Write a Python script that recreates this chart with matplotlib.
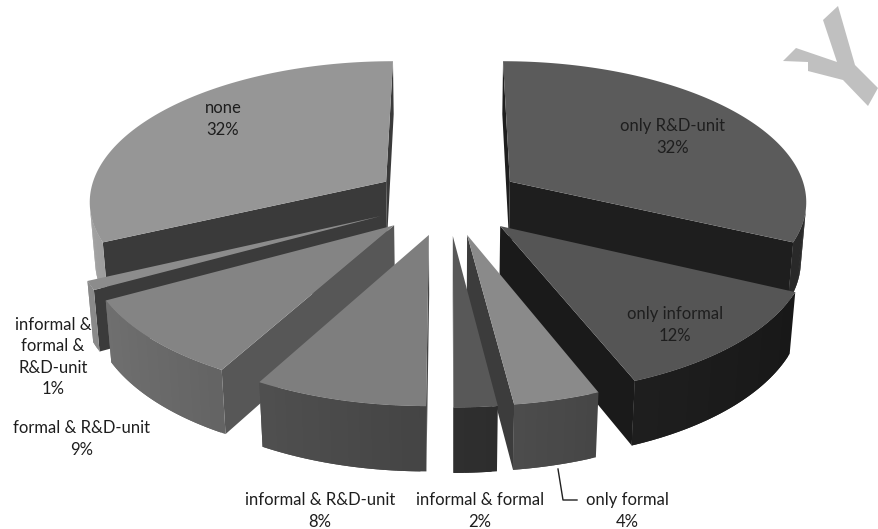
import numpy as np
import matplotlib
matplotlib.use('Agg')
from matplotlib import pyplot as plt
from matplotlib.patches import Polygon

# survey shares, clockwise from 12 o'clock
labels = ['only R&D-unit', 'only informal', 'only formal', 'informal & formal',
          'informal & R&D-unit', 'formal & R&D-unit', 'informal &\nformal &\nR&D-unit', 'none']
shares = [32, 12, 4, 2, 8, 9, 1, 32]

# greyscale styling per slice: top face, rim base, radial cut face
top_colors = ['#5b5b5b', '#555555', '#8a8a8a', '#585858', '#7e7e7e', '#848484', '#8c8c8c', '#969696']
rim_base = [0x3d, 0x23, 0x50, 0x2f, 0x44, 0x55, 0x69, 0x78]
cut_colors = ['#1e1e1e', '#1a1a1a', '#3c3c3c', '#4e4e4e', '#444444', '#575757', '#3b3b3b', '#3a3a3a']

# label anchors (pixels) and font
label_pos = [(673, 137), (675, 325), (627, 511), (480, 511),
             (320, 511), (82, 439), (53, 357), (223, 119)]
FONT = 'Lato'
FS = 12

# view
tilt = np.radians(28)
cam_dist = 7.0
scale = 298
cx, cy = 448, 200
explode = 0.25
height = 0.225

cam = np.array([0.0, -cam_dist * np.cos(tilt), cam_dist * np.sin(tilt)])


def project(pts):
    pts = np.asarray(pts, dtype=float)
    x, y, z = pts[:, 0], pts[:, 1], pts[:, 2]
    d = y * np.cos(tilt) - z * np.sin(tilt)
    f = cam_dist / (cam_dist + d)
    u = y * np.sin(tilt) + z * np.cos(tilt)
    return np.column_stack([cx + scale * x * f, cy - scale * u * f])


def direction(t):
    return np.array([np.sin(t), np.cos(t), 0.0])


def visible(normal, point):
    return np.dot(normal, cam - point) > 0


def grey(v):
    v = int(np.clip(round(v), 0, 255))
    return '#{0:02x}{0:02x}{0:02x}'.format(v)


fig = plt.figure(figsize=(8.79, 5.29), dpi=100)
ax = fig.add_axes([0, 0, 1, 1])
ax.set_xlim(0, 879)
ax.set_ylim(529, 0)
ax.axis('off')

down = np.array([0.0, 0.0, -height])
edges = np.radians(np.concatenate([[0], np.cumsum(shares)]) * 3.6)

slices = []
for i in range(len(shares)):
    a, b = edges[i], edges[i + 1]
    m = (a + b) / 2
    off = explode * direction(m)
    n = max(3, int(np.degrees(b - a)) + 2)
    th = np.linspace(a, b, n)
    faces = []

    # radial cut faces
    for t, nrm in [(a, np.array([-np.cos(a), np.sin(a), 0.0])),
                   (b, np.array([np.cos(b), -np.sin(b), 0.0]))]:
        quad = [off, off + direction(t), off + direction(t) + down, off + down]
        if visible(nrm, off + 0.5 * direction(t) + 0.5 * down):
            faces.append((quad, cut_colors[i]))

    # outer rim, lit from the left; each strip overlaps the next one
    # so no seams show between them
    for k in range(n - 1):
        tm = (th[k] + th[k + 1]) / 2
        if not visible(direction(tm), off + direction(tm) + 0.5 * down):
            continue
        seg = th[k:min(k + 3, n)]
        upper = [off + direction(t) for t in seg]
        lower = [p + down for p in upper[::-1]]
        shade = rim_base[i] * (1 - 0.35 * np.sin(tm))
        faces.append((upper + lower, grey(shade)))

    # top
    top = [off] + [off + direction(t) for t in th]
    faces.append((top, top_colors[i]))

    centre = off + 0.6 * direction(m) + 0.5 * down
    slices.append((np.linalg.norm(centre - cam), faces))

# far slices first
for _, faces in sorted(slices, key=lambda s: -s[0]):
    for pts, col in faces:
        ax.add_patch(Polygon(project(pts), closed=True, facecolor=col,
                             edgecolor='none', antialiased=True))

for lab, share, (x, y) in zip(labels, shares, label_pos):
    ax.text(x, y, '{}\n{}%'.format(lab, share), ha='center', va='center',
            fontsize=FS, family=FONT, color='#1e1e1e', linespacing=1.42)

# leader for the small "only formal" slice
ax.plot([558, 563, 577], [469, 500, 500], color='#202020', linewidth=1.0)

# grey mark in the corner
logo = [(823, 20), (838, 6), (855, 65), (878, 88), (868, 106), (843, 80),
        (808, 71), (808, 62), (783, 61), (796, 48), (837, 62)]
ax.add_patch(Polygon(logo, closed=True, facecolor='#c0c0c0', edgecolor='none'))

fig.savefig('out.png', dpi=100, facecolor='white')
